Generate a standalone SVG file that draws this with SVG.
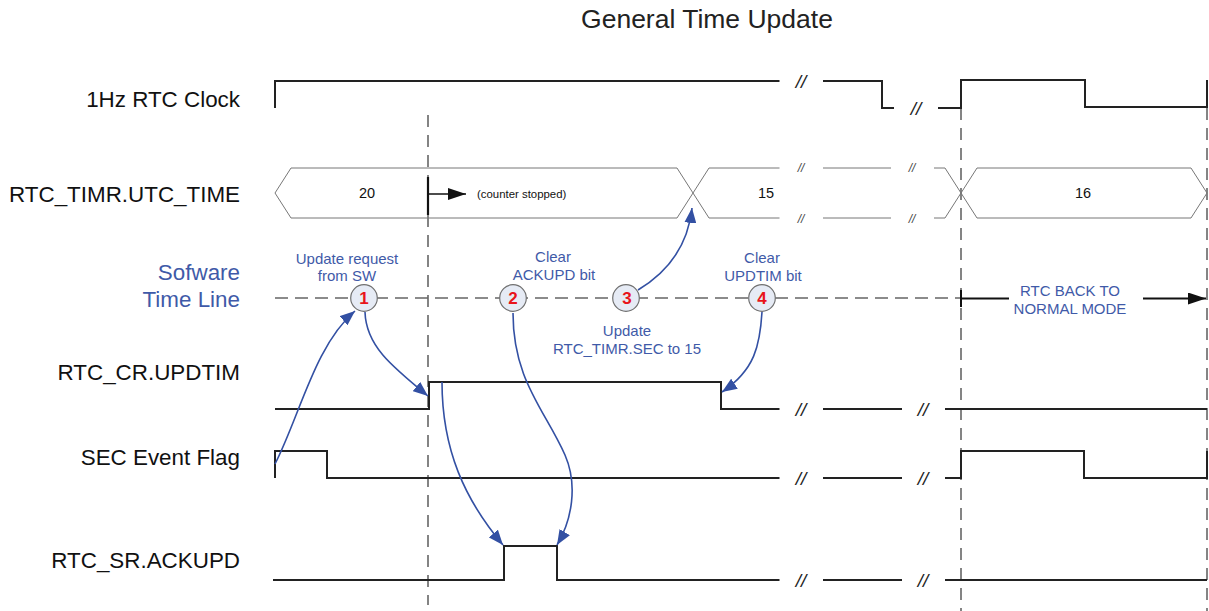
<svg xmlns="http://www.w3.org/2000/svg" width="1209" height="611" viewBox="0 0 1209 611">
<style>
text{font-family:"Liberation Sans",Arial,sans-serif}
.lbl{font-size:22.4px;fill:#111;text-anchor:end}
.blbl{font-size:22.4px;fill:#3F5AA8;text-anchor:end}
.note{font-size:15px;fill:#3F5AA8;text-anchor:middle}
.val{font-size:14.5px;fill:#111;text-anchor:middle}
.brk{font-size:19px;fill:#222;text-anchor:middle;font-style:italic}
.bbrk{font-size:12px;fill:#444;text-anchor:middle;font-style:italic}
.sig{fill:none;stroke:#222;stroke-width:2}
.bus{fill:none;stroke:#777;stroke-width:1}
.dash{fill:none;stroke:#666;stroke-width:1.6;stroke-dasharray:12 8}
.hdash{fill:none;stroke:#666;stroke-width:1.6;stroke-dasharray:13 7}
.conn{fill:none;stroke:#3350A3;stroke-width:1.6}
.circ{fill:#E6EBF5;stroke:#707070;stroke-width:1.2}
.num{font-size:17px;font-weight:bold;fill:#E8141B;text-anchor:middle}
</style>
<defs>
<marker id="ab" markerUnits="userSpaceOnUse" markerWidth="15" markerHeight="12" refX="15" refY="6" orient="auto"><path d="M0,0 L15,6 L0,12 z" fill="#3350A3"/></marker>
<marker id="ak" markerUnits="userSpaceOnUse" markerWidth="18" markerHeight="12" refX="18" refY="6" orient="auto"><path d="M0,0 L18,6 L0,12 z" fill="#111"/></marker>
</defs>

<text x="707" y="28" font-size="26.5" fill="#222" text-anchor="middle">General Time Update</text>

<g id="labels">
<text class="lbl" x="240" y="107">1Hz RTC Clock</text>
<text class="lbl" x="240" y="202">RTC_TIMR.UTC_TIME</text>
<text class="blbl" x="240" y="280">Sofware</text>
<text class="blbl" x="240" y="307">Time Line</text>
<text class="lbl" x="240" y="380">RTC_CR.UPDTIM</text>
<text class="lbl" x="240" y="465">SEC Event Flag</text>
<text class="lbl" x="240" y="568">RTC_SR.ACKUPD</text>
</g>

<g id="guides">
<path class="dash" d="M428,115 V605"/>
<path class="dash" d="M961,108 V611"/>
<path class="dash" d="M1207,108 V611"/>
<path class="hdash" d="M275,298 H961"/>
</g>

<g id="clock">
<path class="sig" d="M275,108 V81 H779.5"/>
<path class="sig" d="M823,81 H882 V108 H894"/>
<path class="sig" d="M938,108 H961 V80 H1085 V107 H1207 V80"/>
<text class="brk" x="801" y="88">//</text>
<text class="brk" x="916" y="115">//</text>
</g>

<g id="utc-time">
<path class="bus" d="M677,168 H291 L275,193 L291,218 H677"/>
<path class="bus" d="M677,168 L709,218 M677,218 L709,168"/>
<path class="bus" d="M709,168 H779.5 M823,168 H891 M934,168 H945 L977,218 H1191 L1207,193 L1191,168 H977 L945,218 H934 M823,218 H891 M709,218 H779.5"/>
<text class="bbrk" x="801" y="172">//</text>
<text class="bbrk" x="912" y="172">//</text>
<text class="bbrk" x="801" y="223">//</text>
<text class="bbrk" x="912" y="223">//</text>
<text class="val" x="367" y="198">20</text>
<text class="val" x="766" y="198">15</text>
<text class="val" x="1083" y="198">16</text>
<path d="M428,177 V215" stroke="#111" stroke-width="2.2" fill="none"/>
<path d="M428,194 H466" stroke="#111" stroke-width="1.6" fill="none" marker-end="url(#ak)"/>
<text x="477" y="198" font-size="11.4" fill="#111">(counter stopped)</text>
</g>

<g id="updtim">
<path class="sig" d="M275,409 H429 V382 H721 V409 H779.5"/>
<path class="sig" d="M823,409 H902 M945,409 H1207"/>
<text class="brk" x="801" y="416">//</text>
<text class="brk" x="923" y="416">//</text>
</g>

<g id="sec-flag">
<path class="sig" d="M275,478 V451 H327 V478 H779.5"/>
<path class="sig" d="M823,478 H902 M945,478 H961 V451 H1084 V478 H1207 V451"/>
<text class="brk" x="801" y="485">//</text>
<text class="brk" x="923" y="485">//</text>
</g>

<g id="ackupd">
<path class="sig" d="M273,580 H504 V546 H557 V580 H779.5"/>
<path class="sig" d="M823,580 H902 M945,580 H1207"/>
<text class="brk" x="801" y="587">//</text>
<text class="brk" x="923" y="587">//</text>
</g>

<g id="normal-mode">
<path d="M961,290 V307" stroke="#111" stroke-width="2" fill="none"/>
<path d="M961,298.5 H1009" stroke="#111" stroke-width="2" fill="none"/>
<path d="M1143,298.5 H1206" stroke="#111" stroke-width="2" fill="none" marker-end="url(#ak)"/>
<text class="note" x="1070" y="296">RTC BACK TO</text>
<text class="note" x="1070" y="314">NORMAL MODE</text>
</g>

<g id="connectors">
<path class="conn" d="M275,464 C300,415 315,345 355,311" marker-end="url(#ab)"/>
<path class="conn" d="M365,312 C366,345 390,365 428,396" marker-end="url(#ab)"/>
<path class="conn" d="M442,382 C442,450 465,500 503,545" marker-end="url(#ab)"/>
<path class="conn" d="M513,313 C513,380 545,410 565,455 C578,485 572,520 557,545" marker-end="url(#ab)"/>
<path class="conn" d="M638,290 C668,272 688,245 692,208" marker-end="url(#ab)"/>
<path class="conn" d="M762,312 C760,345 755,370 722,392" marker-end="url(#ab)"/>
</g>

<g id="step1">
<circle class="circ" cx="364" cy="298" r="13.3"/>
<text class="num" x="364" y="304">1</text>
<text class="note" x="347" y="264">Update request</text>
<text class="note" x="347" y="281">from SW</text>
</g>
<g id="step2">
<circle class="circ" cx="513" cy="298" r="13.3"/>
<text class="num" x="513" y="304">2</text>
<text class="note" x="553" y="262">Clear</text>
<text class="note" x="554" y="280">ACKUPD bit</text>
</g>
<g id="step3">
<circle class="circ" cx="626" cy="298" r="13.3"/>
<text class="num" x="627" y="304">3</text>
<text class="note" x="627" y="336">Update</text>
<text class="note" x="627" y="354">RTC_TIMR.SEC to 15</text>
</g>
<g id="step4">
<circle class="circ" cx="762" cy="298" r="13.3"/>
<text class="num" x="762" y="304">4</text>
<text class="note" x="762" y="263">Clear</text>
<text class="note" x="763" y="281">UPDTIM bit</text>
</g>
</svg>
